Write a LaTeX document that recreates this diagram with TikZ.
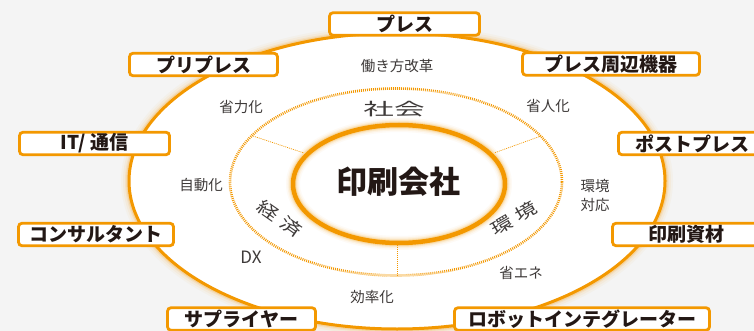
\documentclass[tikz,border=0pt]{standalone}
\usepackage{fontspec}
\setmainfont{Noto Sans CJK JP}
\newfontfamily\jp{Noto Sans CJK JP}
\definecolor{org}{HTML}{F39800}
\definecolor{ink}{HTML}{231815}
\definecolor{lbl}{HTML}{3E3A39}
\definecolor{bg}{HTML}{F4F4F4}
\newcommand{\wideglyph}[1]{\scalebox{1.3}[1]{#1}}
\begin{document}
\begin{tikzpicture}[x=1pt,y=-1pt,
  cat/.style={draw=org, line width=2.8pt, fill=white, rounded corners=3.5pt,
    minimum height=22.5pt, inner sep=0pt,
    font=\jp\bfseries\fontsize{19}{20}\selectfont, text=ink},
  lab/.style={font=\jp\fontsize{14.5}{16}\selectfont, text=lbl, inner sep=0pt},
  ring/.style={font=\jp\fontsize{17}{19}\selectfont, text=lbl, inner sep=0pt},
  divider/.style={org, line width=0.7pt, dash pattern=on 1pt off 1pt},
]
\fill[bg] (0,0) rectangle (754,331);
\useasboundingbox (0,0) rectangle (754,331);

% outer ellipse with glow
\foreach \w/\o in {16/0.04, 12/0.06, 8/0.10, 5.5/0.18}
  \draw[org, opacity=\o, line width=\w pt] (397,181) ellipse [x radius=268pt, y radius=148pt];
\fill[white] (397,181) ellipse [x radius=268pt, y radius=148pt];
\draw[org, line width=3pt] (397,181) ellipse [x radius=268pt, y radius=148pt];

% dividers
\coordinate (d1a) at (253,136); \coordinate (d1b) at (304,153);
\coordinate (d2a) at (541,136); \coordinate (d2b) at (494,153);
\coordinate (d3a) at (397,276); \coordinate (d3b) at (397,240);
\draw[divider] (d1a) -- (d1b);
\draw[divider] (d2a) -- (d2b);
\draw[divider] (d3a) -- (d3b);

% dotted ring
\draw[org, line width=2.6pt, dash pattern=on 0.9pt off 1.1pt] (396,182) ellipse [x radius=166pt, y radius=93.5pt];

% center ellipse with glow
\foreach \w/\o in {14/0.04, 11/0.07, 8.5/0.11, 6.5/0.18}
  \draw[org, opacity=\o, line width=\w pt] (399,184) ellipse [x radius=106pt, y radius=59pt];
\draw[org, line width=4.5pt] (399,184) ellipse [x radius=106pt, y radius=59pt];

\node[font=\jp\bfseries\fontsize{31}{33}\selectfont, text=ink, inner sep=0pt] (core) at (398,182) {印刷会社};

% ring labels
\node[ring] (soc) at (394,109) {\scalebox{1.8}[1]{社会}};
\node[ring, rotate=-35] (eco) at (280,219) {\wideglyph{経}\hspace{6pt}\wideglyph{済}};
\node[ring, rotate=30] (env) at (514,218) {\wideglyph{環}\hspace{6pt}\wideglyph{境}};

% outer labels
\node[lab] (l1) at (397,66) {働き方改革};
\node[lab] (l2) at (241,107) {省力化};
\node[lab] (l3) at (548,106) {省人化};
\node[lab] (l4) at (201,185) {自動化};
\node[lab, align=center, font=\jp\fontsize{14.5}{19}\selectfont] (l5) at (595,195) {環境\\対応};
\node[lab, font=\jp\fontsize{17}{19}\selectfont] (l6) at (251,257) {DX};
\node[lab] (l7) at (372,297) {効率化};
\node[lab] (l8) at (521,273) {省エネ};

% category boxes
\node[cat, minimum width=150pt] (press) at (404.5,24) {プレス};
\node[cat, minimum width=148pt] (prepress) at (203.5,64.5) {プリプレス};
\node[cat, minimum width=177pt] (periph) at (611,64) {プレス周辺機器};
\node[cat, minimum width=150pt] (it) at (94.5,143.5) {IT/ 通信};
\node[cat, minimum width=147pt] (post) at (692,143.5) {ポストプレス};
\node[cat, minimum width=155pt] (consult) at (96,234.5) {コンサルタント};
\node[cat, minimum width=147pt] (mat) at (686,234.5) {印刷資材};
\node[cat, minimum width=148pt] (sup) at (241.5,319) {サプライヤー};
\node[cat, minimum width=255pt] (robot) at (582,319) {ロボットインテグレーター};
\end{tikzpicture}
\end{document}
